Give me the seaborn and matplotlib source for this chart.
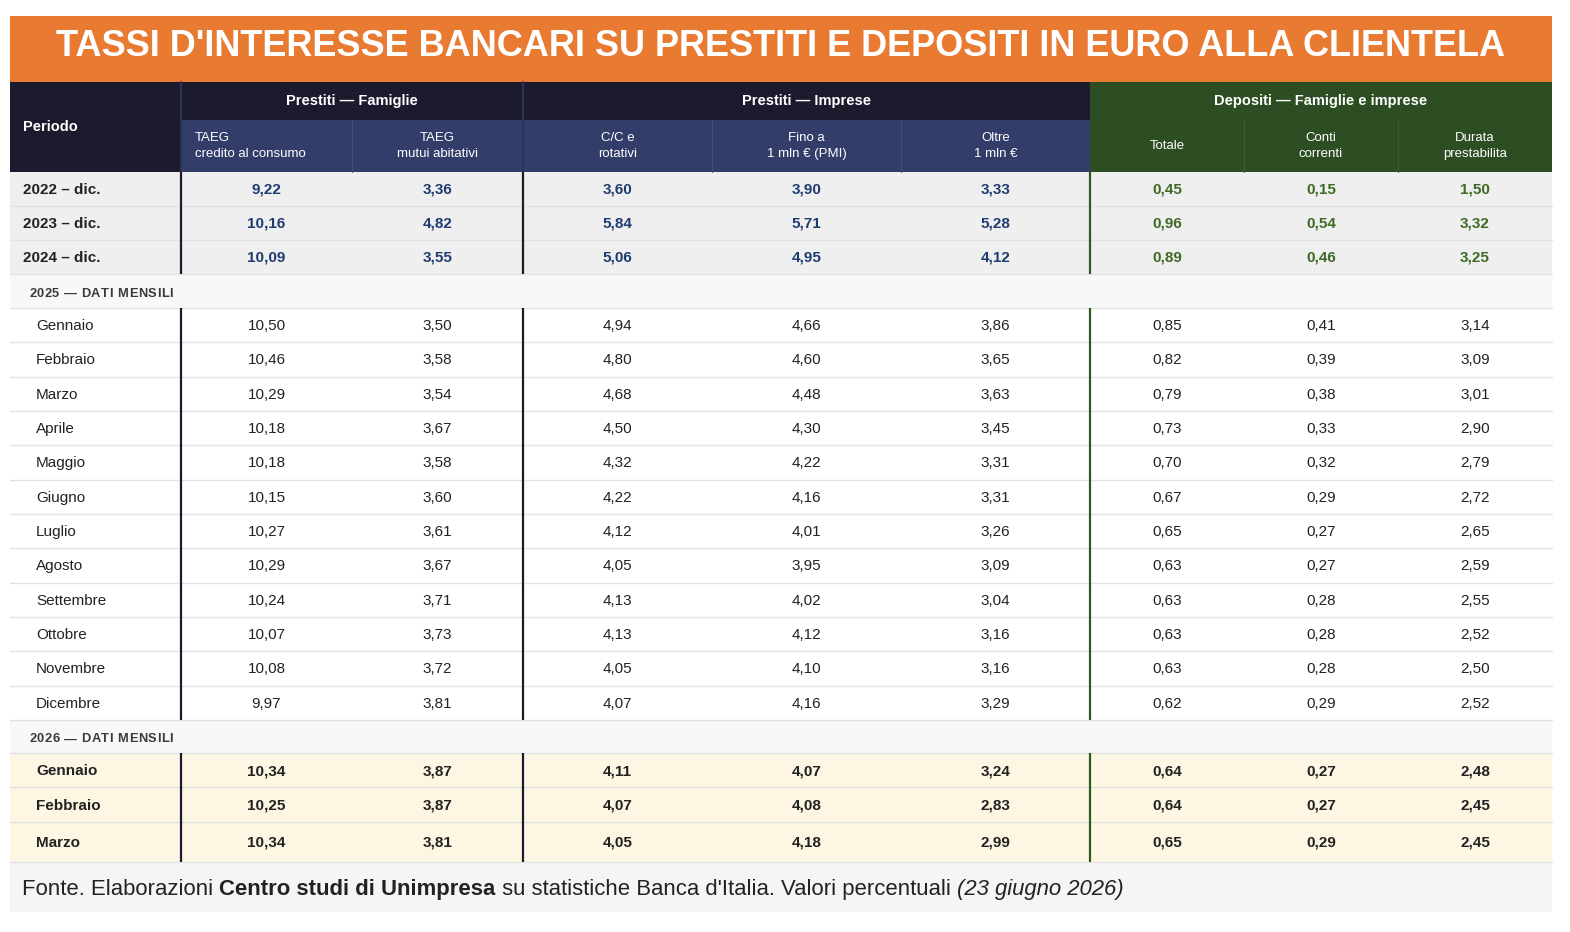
import numpy as np
import seaborn as sns
import matplotlib.pyplot as plt
from matplotlib.patches import Rectangle

# --- data ---
title = "TASSI D'INTERESSE BANCARI SU PRESTITI E DEPOSITI IN EURO ALLA CLIENTELA"
groups = ["Prestiti — Famiglie", "Prestiti — Imprese", "Depositi — Famiglie e imprese"]
sub_headers = ["TAEG\ncredito al consumo", "TAEG\nmutui abitativi", "C/C e\nrotativi",
               "Fino a\n1 mln € (PMI)", "Oltre\n1 mln €", "Totale", "Conti\ncorrenti",
               "Durata\nprestabilita"]

annual_labels = ["2022 – dic.", "2023 – dic.", "2024 – dic."]
annual_values = [
    [9.22, 3.36, 3.60, 3.90, 3.33, 0.45, 0.15, 1.50],
    [10.16, 4.82, 5.84, 5.71, 5.28, 0.96, 0.54, 3.32],
    [10.09, 3.55, 5.06, 4.95, 4.12, 0.89, 0.46, 3.25],
]

months_2025 = ["Gennaio", "Febbraio", "Marzo", "Aprile", "Maggio", "Giugno", "Luglio",
               "Agosto", "Settembre", "Ottobre", "Novembre", "Dicembre"]
values_2025 = [
    [10.50, 3.50, 4.94, 4.66, 3.86, 0.85, 0.41, 3.14],
    [10.46, 3.58, 4.80, 4.60, 3.65, 0.82, 0.39, 3.09],
    [10.29, 3.54, 4.68, 4.48, 3.63, 0.79, 0.38, 3.01],
    [10.18, 3.67, 4.50, 4.30, 3.45, 0.73, 0.33, 2.90],
    [10.18, 3.58, 4.32, 4.22, 3.31, 0.70, 0.32, 2.79],
    [10.15, 3.60, 4.22, 4.16, 3.31, 0.67, 0.29, 2.72],
    [10.27, 3.61, 4.12, 4.01, 3.26, 0.65, 0.27, 2.65],
    [10.29, 3.67, 4.05, 3.95, 3.09, 0.63, 0.27, 2.59],
    [10.24, 3.71, 4.13, 4.02, 3.04, 0.63, 0.28, 2.55],
    [10.07, 3.73, 4.13, 4.12, 3.16, 0.63, 0.28, 2.52],
    [10.08, 3.72, 4.05, 4.10, 3.16, 0.63, 0.28, 2.50],
    [9.97, 3.81, 4.07, 4.16, 3.29, 0.62, 0.29, 2.52],
]

months_2026 = ["Gennaio", "Febbraio", "Marzo"]
values_2026 = [
    [10.34, 3.87, 4.11, 4.07, 3.24, 0.64, 0.27, 2.48],
    [10.25, 3.87, 4.07, 4.08, 2.83, 0.64, 0.27, 2.45],
    [10.34, 3.81, 4.05, 4.18, 2.99, 0.65, 0.29, 2.45],
]

section_labels = ["2025 — DATI MENSILI", "2026 — DATI MENSILI"]

# --- style ---
sns.set_theme(style="white")
plt.rcParams['font.family'] = ['Liberation Sans', 'DejaVu Sans']

ORANGE = "#e87a32"
NAVY = "#1c1b2e"
BLUE = "#323e69"
GREEN = "#2d4d23"
NUM_BLUE = "#1f3c70"
NUM_GREEN = "#3e6a24"
TXT = "#222222"
SEP = "#e2e2e2"


def fmt(v):
    return f"{v:.2f}".replace(".", ",")


fig = plt.figure(figsize=(15.7, 9.32), dpi=100)
ax = fig.add_axes([0, 0, 1, 1])
ax.set_xlim(0, 1570)
ax.set_ylim(932, 0)
ax.axis("off")
renderer = fig.canvas.get_renderer()

L, R = 10, 1552
col_edges = [10, 181, 352, 523, 712, 901, 1090, 1244, 1398, 1552]


def rect(x0, y0, x1, y1, color):
    ax.add_patch(Rectangle((x0, y0), x1 - x0, y1 - y0, facecolor=color, edgecolor="none", zorder=1))


def spaced_text(x, y, s, spacing, **kw):
    # draw text char by char to imitate letter-spacing
    for ch in s:
        t = ax.text(x, y, ch, ha="left", va="center", **kw)
        x += t.get_window_extent(renderer=renderer).width + spacing


# title band
rect(L, 16, R, 82, ORANGE)
ax.text((L + R) / 2, 46, title, ha="center", va="center", color="white",
        fontsize=26, fontweight="bold", zorder=3)

# header
rect(L, 82, 1090, 172, NAVY)
rect(181, 120, 1090, 172, BLUE)
rect(1090, 82, R, 172, GREEN)
ax.text(23, 127, "Periodo", ha="left", va="center", color="white",
        fontsize=10.5, fontweight="bold", zorder=3)
group_spans = [(181, 523), (523, 1090), (1090, 1552)]
for g, (a, b) in zip(groups, group_spans):
    ax.text((a + b) / 2, 101, g, ha="center", va="center", color="white",
            fontsize=10.5, fontweight="bold", zorder=3)
for i, s in enumerate(sub_headers):
    a, b = col_edges[i + 1], col_edges[i + 2]
    if i == 0:
        ax.text(a + 14, 146, s, ha="left", va="center", color="white",
                fontsize=9.5, linespacing=1.55, zorder=3)
    else:
        ax.text((a + b) / 2, 146, s, ha="center", va="center", color="white",
                fontsize=9.5, linespacing=1.55, multialignment="center", zorder=3)
for x in [352, 712, 901]:
    ax.plot([x, x], [120, 172], color="#434f7c", lw=0.8, zorder=2)
for x in [1244, 1398]:
    ax.plot([x, x], [120, 172], color="#3c5d31", lw=0.8, zorder=2)
for x in [181, 523]:
    ax.plot([x, x], [82, 172], color="#2c3558", lw=1.4, zorder=2)

# body rows
rows = []
y = 172.0
for lab, vals in zip(annual_labels, annual_values):
    rows.append((y, y + 34.0, "annual", lab, vals))
    y += 34.0
rows.append((y, y + 34.0, "section", section_labels[0], None))
y += 34.0
for lab, vals in zip(months_2025, values_2025):
    rows.append((y, y + 34.33, "month", lab, vals))
    y += 34.33
rows.append((y, y + 33.0, "section", section_labels[1], None))
y += 33.0
for k, (lab, vals) in enumerate(zip(months_2026, values_2026)):
    h = 40.0 if k == len(months_2026) - 1 else 34.5
    rows.append((y, y + h, "new", lab, vals))
    y += h
body_bottom = y

bg = {"annual": "#efefef", "section": "#f8f8f8", "month": "white", "new": "#fcf6e3"}
for y0, y1, kind, lab, vals in rows:
    rect(L, y0, R, y1, bg[kind])
    ax.plot([L, R], [y1, y1], color=SEP, lw=1.0, zorder=2)
    yc = (y0 + y1) / 2
    if kind == "section":
        spaced_text(29, yc + 3, lab, 0.5, color="#3a3a3a", fontsize=9.3,
                    fontweight="bold", zorder=3)
        continue
    if kind == "annual":
        ax.text(23, yc + 1, lab, ha="left", va="center", color=TXT,
                fontsize=11, fontweight="bold", zorder=3)
    else:
        ax.text(36, yc + 1, lab, ha="left", va="center", color=TXT,
                fontsize=11, fontweight="bold" if kind == "new" else "normal", zorder=3)
    for j, v in enumerate(vals):
        xc = (col_edges[j + 1] + col_edges[j + 2]) / 2
        if kind == "annual":
            c = NUM_BLUE if j < 5 else NUM_GREEN
            w = "bold"
        elif kind == "new":
            c, w = TXT, "bold"
        else:
            c, w = TXT, "normal"
        ax.text(xc, yc + 1, fmt(v), ha="center", va="center", color=c,
                fontsize=11, fontweight=w, zorder=3)
    for x, c in [(181, NAVY), (523, NAVY), (1090, "#2e5a22")]:
        ax.plot([x, x], [y0, y1], color=c, lw=1.6, zorder=4, solid_capstyle="butt")

# footer
rect(L, body_bottom, R, 912, "#f5f5f5")
parts = [("Fonte. Elaborazioni ", "normal", "normal"),
         ("Centro studi di Unimpresa", "bold", "normal"),
         (" su statistiche Banca d'Italia. Valori percentuali ", "normal", "normal"),
         ("(23 giugno 2026)", "normal", "italic")]
xpos = 22
fy = (body_bottom + 912) / 2 + 3
for txt, w, st in parts:
    t = ax.text(xpos, fy, txt, ha="left", va="center", color=TXT, fontsize=15.9,
                fontweight=w, fontstyle=st, zorder=3)
    xpos += t.get_window_extent(renderer=renderer).width

fig.savefig("out.png", dpi=100, facecolor="white")
